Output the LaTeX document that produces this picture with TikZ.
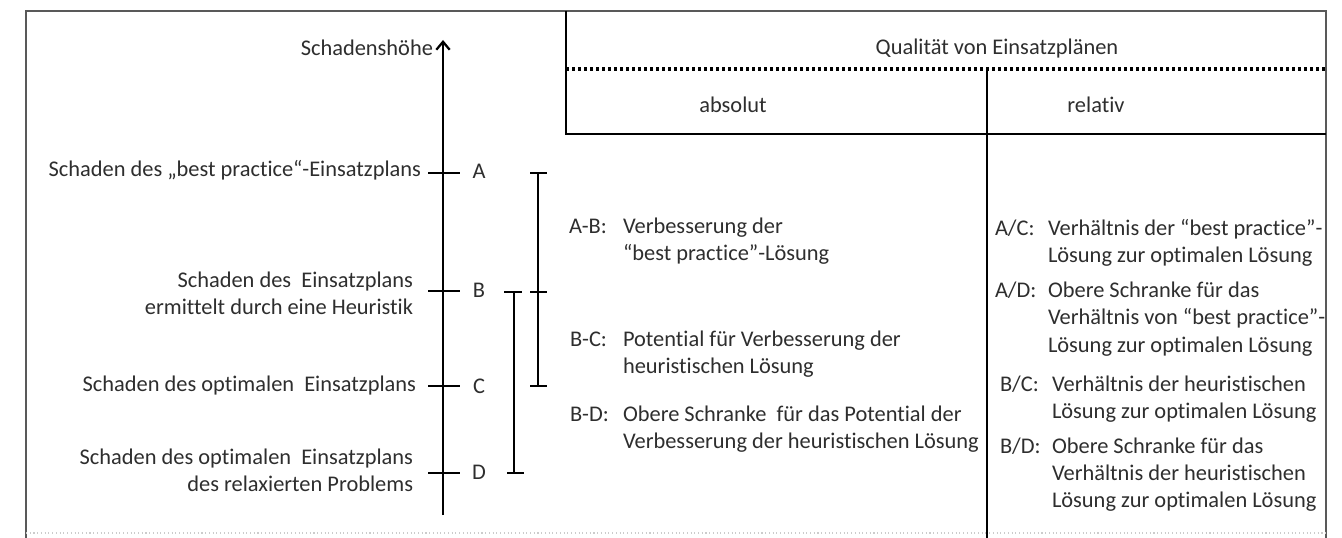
\documentclass[tikz,border=0pt]{standalone}
\usepackage{fontspec}
\setmainfont{Carlito}[Ligatures={NoCommon}]
\usetikzlibrary{arrows.meta}
\newcommand\mlLeft[1]{\begin{tabular}[t]{@{}l@{}}#1\end{tabular}}
\newcommand\mlRight[1]{\begin{tabular}[t]{@{}r@{}}#1\end{tabular}}
\begin{document}
\begin{tikzpicture}[x=0.75pt,y=-0.75pt,
  txt/.style={font=\fontsize{16.8}{20.25}\selectfont, text=black!82, inner sep=0pt, outer sep=0pt},
  outerframe/.style={draw=black!65, line width=1.1pt},
  bottomline/.style={draw=black!20, line width=0.8pt, dotted},
  tablerule/.style={draw=black, line width=2.2pt},
  dotrule/.style={draw=black, line width=2.4pt, dash pattern=on 2.2pt off 2.3pt},
  axisline/.style={draw=black, line width=1.7pt},
  tickline/.style={draw=black, line width=1.6pt},
  bar/.style={draw=black, line width=1.6pt},
]
\useasboundingbox (0,0) rectangle (1342,538);
\fill[white] (0,0) rectangle (1342,538);

% outer frame
\coordinate (fTL) at (26,11);
\coordinate (fTR) at (1326,11);
\coordinate (fBL) at (26,538);
\coordinate (fBR) at (1326,538);
\draw[outerframe] (fBL) -- (fTL) -- (fTR) -- (fBR);
\coordinate (bL) at (26,533);
\coordinate (bR) at (1326,533);
\draw[bottomline] (bL) -- (bR);

% table header
\coordinate (tTop) at (566,11);
\coordinate (tCorner) at (566,134);
\coordinate (tRight) at (1326,134);
\coordinate (dL) at (566,69);
\coordinate (dR) at (1326,69);
\coordinate (mTop) at (987,69);
\coordinate (mBot) at (987,538);
\draw[tablerule] (tTop) -- (tCorner) -- (tRight);
\draw[dotrule] (dL) -- (dR);
\draw[tablerule] (mTop) -- (mBot);

\node[txt, anchor=base] (qual) at (997,55) {Qualität von Einsatzplänen};
\node[txt, anchor=base] (abs) at (733,113) {absolut};
\node[txt, anchor=base] (rel) at (1096,113) {relativ};

% axis
\coordinate (axBot) at (443,515);
\coordinate (axTop) at (443,40);
\draw[axisline, -{Straight Barb[length=6pt,width=10pt,line width=1.7pt]}] (axBot) -- (axTop);
\node[txt, anchor=base east] (hoehe) at (433,56) {Schadenshöhe};

% ticks
\foreach \n/\y in {A/173, B/291, C/386, D/473}{
  \coordinate (t\n L) at (428,\y);
  \coordinate (t\n R) at (460,\y);
  \draw[tickline] (t\n L) -- (t\n R);
}
\node[txt, anchor=base] (lA) at (479,179) {A};
\node[txt, anchor=base] (lB) at (479,298) {B};
\node[txt, anchor=base] (lC) at (479,393) {C};
\node[txt, anchor=base] (lD) at (479,479) {D};

% left labels
\node[txt, anchor=base east] (sA) at (421,177) {Schaden des „best practice“-Einsatzplans};
\node[txt, anchor=base east] (sB) at (413,288) {\mlRight{Schaden des\ \ Einsatzplans\\ermittelt durch eine Heuristik}};
\node[txt, anchor=base east] (sC) at (416,391) {Schaden des optimalen\ \ Einsatzplans};
\node[txt, anchor=base east] (sD) at (413,464) {\mlRight{Schaden des optimalen\ \ Einsatzplans\\des relaxierten Problems}};

% brackets
\coordinate (b1T) at (538,173);
\coordinate (b1M) at (538,292);
\coordinate (b1B) at (538,386);
\coordinate (b1TL) at (530,173); \coordinate (b1TR) at (547,173);
\coordinate (b1ML) at (530,292); \coordinate (b1MR) at (547,292);
\coordinate (b1BL) at (530,386); \coordinate (b1BR) at (547,386);
\draw[bar] (b1T) -- (b1B);
\draw[bar] (b1TL) -- (b1TR);
\draw[bar] (b1ML) -- (b1MR);
\draw[bar] (b1BL) -- (b1BR);
\coordinate (b2T) at (514,292);
\coordinate (b2B) at (514,473);
\coordinate (b2TL) at (504,292); \coordinate (b2TR) at (522,292);
\coordinate (b2BL) at (507,473); \coordinate (b2BR) at (524,473);
\draw[bar] (b2T) -- (b2B);
\draw[bar] (b2TL) -- (b2TR);
\draw[bar] (b2BL) -- (b2BR);

% absolut column
\node[txt, anchor=base west] (kAB) at (569,234) {A-B:};
\node[txt, anchor=base west] (vAB) at (623,234) {\mlLeft{Verbesserung der\\“best practice”-Lösung}};
\node[txt, anchor=base west] (kBC) at (570,346) {B-C:};
\node[txt, anchor=base west] (vBC) at (623,346) {\mlLeft{Potential für Verbesserung der\\heuristischen Lösung}};
\node[txt, anchor=base west] (kBD) at (570,421) {B-D:};
\node[txt, anchor=base west] (vBD) at (623,421) {\mlLeft{Obere Schranke\ \ für das Potential der\\Verbesserung der heuristischen Lösung}};

% relativ column
\node[txt, anchor=base west] (kAC) at (995,236) {A/C:};
\node[txt, anchor=base west] (vAC) at (1048,236) {\mlLeft{Verhältnis der “best practice”-\\Lösung zur optimalen Lösung}};
\node[txt, anchor=base west] (kAD) at (995,298) {A/D:};
\node[txt, anchor=base west] (vAD) at (1048,298) {\mlLeft{Obere Schranke für das\\Verhältnis von “best practice”-\\Lösung zur optimalen Lösung}};
\node[txt, anchor=base west] (kBCr) at (1000,391) {B/C:};
\node[txt, anchor=base west] (vBCr) at (1052,391) {\mlLeft{Verhältnis der heuristischen\\Lösung zur optimalen Lösung}};
\node[txt, anchor=base west] (kBDr) at (1000,453) {B/D:};
\node[txt, anchor=base west] (vBDr) at (1052,453) {\mlLeft{Obere Schranke für das\\Verhältnis der heuristischen\\Lösung zur optimalen Lösung}};
\end{tikzpicture}
\end{document}
